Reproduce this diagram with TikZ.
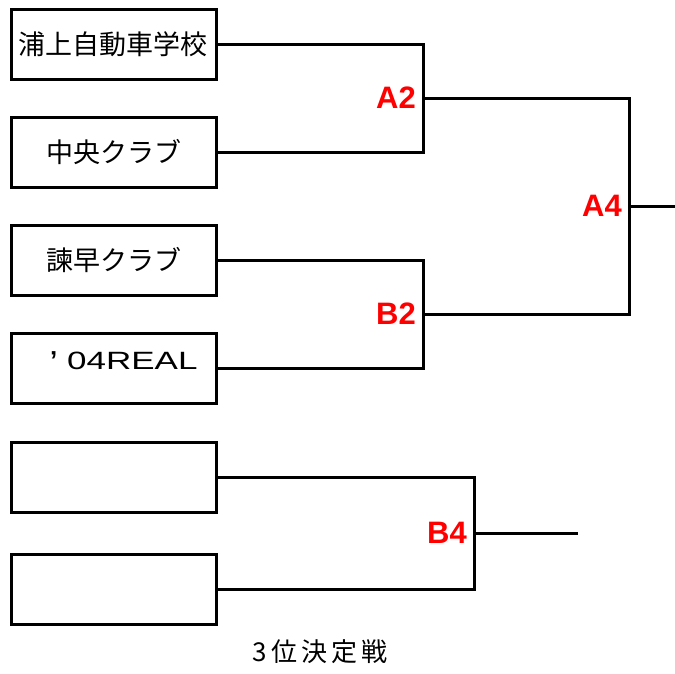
\documentclass[tikz,border=0pt]{standalone}
\usepackage{fontspec}
\usepackage{graphicx}
\newfontfamily\jpfont{Noto Sans CJK JP}
\newfontfamily\latfont{Liberation Sans}
\usetikzlibrary{positioning}
\tikzset{
  team/.style={draw, line width=3pt, minimum width=205pt, minimum height=70pt, inner sep=0pt,
    font=\jpfont\fontsize{27pt}{30pt}\selectfont},
  conn/.style={line width=3pt},
  rnd/.style={text=red, inner sep=0pt, font=\latfont\bfseries\fontsize{31pt}{34pt}\selectfont},
}
\begin{document}
\begin{tikzpicture}[x=1pt,y=-1pt]
\useasboundingbox (0,0) rectangle (675,673);
\node[team] (b1) at (113.5,44) {浦上自動車学校};
\node[team] (b2) at (113.5,152) {中央クラブ};
\node[team] (b3) at (113.5,260) {諫早クラブ};
\node[team] (b4) at (113.5,368) {};
\node[team] (b5) at (113.5,477) {};
\node[team] (b6) at (113.5,589) {};
\node[inner sep=0pt, anchor=north west, font=\latfont\bfseries\fontsize{26pt}{30pt}\selectfont] (t4a) at (50,351) {’};
\node[inner sep=0pt, anchor=west, font=\latfont\fontsize{25pt}{28pt}\selectfont] (t4b) at (67,361) {\scalebox{1.4}[1]{04REAL}};

\coordinate (j1) at (423,98);
\coordinate (j2) at (423,314);
\coordinate (jA4) at (629,206);
\coordinate (eA4) at (675,206);
\coordinate (jB4) at (474,533);
\coordinate (eB4) at (578,533);

\draw[conn] (b1.east) -| (j1) |- (b2.east);
\draw[conn] (b3.east) -| (j2) |- (b4.east);
\draw[conn] (j1) -| (jA4) |- (j2);
\draw[conn] (jA4) -- (eA4);
\draw[conn] (b5.east) -| (jB4) |- (b6.east);
\draw[conn] (jB4) -- (eB4);

\node[rnd, anchor=east] (lA2) at (416,98) {A2};
\node[rnd, anchor=east] (lB2) at (416,314) {B2};
\node[rnd, anchor=east] (lA4) at (622,206) {A4};
\node[rnd, anchor=east] (lB4) at (467,533) {B4};

\node[inner sep=0pt, font=\jpfont\fontsize{26pt}{28pt}\selectfont] (third) at (320,652) {3\kern4pt 位\kern4pt 決\kern4pt 定\kern4pt 戦};
\end{tikzpicture}
\end{document}
